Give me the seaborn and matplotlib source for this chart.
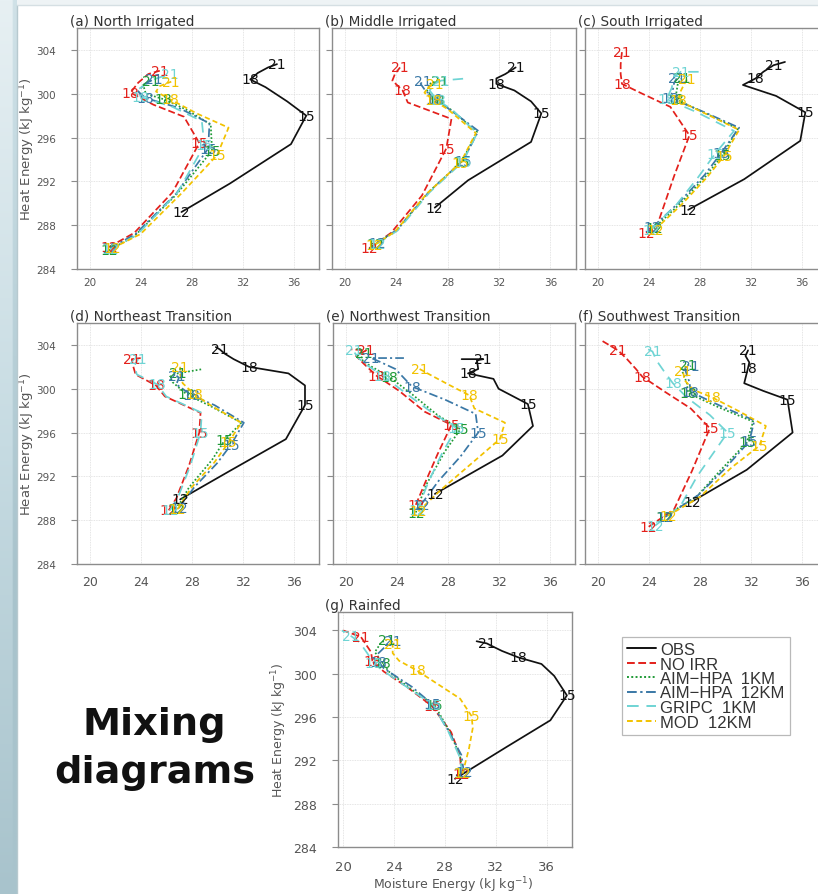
import matplotlib
matplotlib.use("Agg")
import numpy as np
import pandas as pd
import matplotlib.pyplot as plt
import seaborn as sns
from matplotlib.lines import Line2D
from matplotlib.colors import LinearSegmentedColormap

# ---------------------------------------------------------------------------
# Mixing-diagram data: (moisture energy, heat energy) in kJ/kg, hourly 12..21 LST
# (a few tracks carry one extra trailing point past 21 LST)
# ---------------------------------------------------------------------------
SERIES = ["OBS", "NO IRR", "AIM\u2212HPA  1KM", "AIM\u2212HPA  12KM", "GRIPC  1KM", "MOD  12KM"]
HOUR_TAGS = ["12", "15", "18", "21"]
TAG_INDEX = [0, 3, 6, 9]

TITLES = ["(a) North Irrigated", "(b) Middle Irrigated", "(c) South Irrigated",
          "(d) Northeast Transition", "(e) Northwest Transition",
          "(f) Southwest Transition", "(g) Rainfed"]

X_TICKS = [20, 24, 28, 32, 36]
Y_TICKS = [284, 288, 292, 296, 300, 304]

# (a) North Irrigated
a_obs = [(27.2, 289.2), (31.0, 291.8), (35.8, 295.4), (37.0, 298.0), (35.5, 299.3),
         (33.8, 300.6), (32.6, 301.3), (33.2, 301.9), (34.0, 302.4), (34.7, 302.7)]
a_noirr = [(21.5, 286.0), (23.5, 287.3), (26.5, 291.0), (28.6, 295.5), (27.4, 297.9),
           (25.0, 299.0), (23.2, 300.1), (23.8, 301.0), (24.6, 301.8), (25.5, 302.1)]
a_aim1 = [(21.5, 285.7), (23.5, 287.0), (26.8, 290.8), (29.6, 294.8), (29.5, 297.2),
          (27.5, 298.6), (25.8, 299.5), (24.4, 300.0), (24.2, 300.8), (24.8, 301.2)]
a_aim12 = [(21.6, 285.9), (23.6, 287.2), (26.8, 290.9), (29.3, 295.0), (29.4, 297.3),
           (27.0, 298.7), (24.4, 299.6), (23.8, 300.2), (24.3, 300.9), (25.0, 301.3)]
a_gripc = [(21.6, 285.8), (23.7, 287.1), (26.9, 291.0), (29.0, 295.3), (28.8, 297.5),
           (26.5, 298.8), (24.0, 299.7), (23.8, 300.4), (25.0, 301.3), (26.3, 301.8)]
a_mod = [(21.8, 285.9), (24.0, 287.2), (27.2, 290.9), (30.0, 294.4), (30.9, 296.9),
         (28.4, 298.2), (26.3, 299.5), (25.2, 300.2), (25.5, 300.7), (26.4, 301.1)]

# (b) Middle Irrigated
b_obs = [(27.0, 289.6), (29.6, 292.1), (34.5, 295.6), (35.3, 298.2), (34.5, 299.3),
         (33.2, 300.3), (31.8, 300.9), (31.8, 301.4), (32.5, 301.8), (33.3, 302.4)]
b_noirr = [(21.9, 285.9), (23.6, 287.3), (26.0, 290.7), (27.9, 295.0), (28.3, 297.7),
           (24.9, 299.2), (24.5, 300.3), (23.7, 301.2), (23.9, 301.8), (24.3, 302.4)]
b_aim1 = [(22.4, 286.3), (24.0, 287.5), (26.5, 291.0), (29.1, 293.8), (30.3, 296.5),
          (28.2, 298.6), (27.1, 299.4), (26.4, 300.3), (26.7, 301.0), (27.4, 301.2)]
b_aim12 = [(22.5, 286.4), (24.1, 287.6), (26.6, 291.1), (29.2, 293.9), (30.4, 296.6),
           (28.0, 298.7), (27.0, 299.5), (26.2, 300.4), (25.9, 300.9), (26.1, 301.2)]
b_gripc = [(22.5, 286.3), (24.1, 287.5), (26.6, 291.0), (29.2, 293.8), (30.3, 296.4),
           (28.3, 298.6), (27.2, 299.4), (26.6, 300.3), (27.0, 300.9), (27.5, 301.2),
           (29.5, 301.4)]
b_mod = [(22.3, 286.2), (23.9, 287.4), (26.4, 290.9), (29.0, 293.7), (30.2, 296.4),
         (28.0, 298.6), (26.9, 299.4), (26.2, 300.1), (26.5, 300.6), (27.0, 300.9)]

# (c) South Irrigated
c_obs = [(27.1, 289.4), (31.5, 292.2), (35.9, 295.7), (36.3, 298.3), (34.0, 299.8),
         (31.4, 300.8), (32.4, 301.4), (33.0, 302.0), (33.4, 302.3), (33.8, 302.6),
         (34.7, 302.9)]
c_noirr = [(23.8, 287.3), (24.7, 288.1), (26.0, 292.5), (27.2, 296.2), (25.7, 298.8),
           (23.5, 300.0), (21.9, 300.9), (21.8, 301.8), (21.8, 302.7), (21.9, 303.8)]
c_aim1 = [(24.4, 287.7), (26.5, 290.0), (28.5, 292.5), (29.8, 294.4), (31.0, 296.8),
          (28.5, 298.2), (26.1, 299.5), (26.2, 300.3), (26.3, 301.0), (26.6, 301.4)]
c_aim12 = [(24.3, 287.8), (26.4, 290.1), (28.4, 292.6), (29.7, 294.6), (31.1, 296.9),
           (28.2, 298.4), (25.7, 299.6), (25.9, 300.4), (26.0, 301.0), (26.2, 301.4)]
c_gripc = [(24.2, 287.6), (26.2, 289.9), (27.9, 292.4), (29.2, 294.5), (30.7, 296.6),
           (27.8, 298.3), (25.4, 299.5), (25.8, 300.5), (26.0, 301.5), (26.5, 302.0),
           (28.2, 302.0)]
c_mod = [(24.5, 287.6), (26.6, 289.9), (28.6, 292.4), (29.9, 294.3), (31.1, 296.7),
         (28.6, 298.1), (26.3, 299.4), (26.5, 300.2), (26.8, 300.9), (27.0, 301.3)]

# (d) Northeast Transition
d_obs = [(27.1, 289.9), (31.0, 292.5), (35.4, 295.4), (36.9, 298.5), (36.9, 300.3),
         (35.6, 301.4), (32.5, 302.0), (31.3, 302.7), (30.6, 303.2), (30.2, 303.6),
         (29.9, 303.8)]
d_noirr = [(26.2, 288.9), (26.8, 290.0), (27.8, 293.0), (28.6, 296.0), (28.7, 297.8),
           (25.9, 299.3), (25.2, 300.3), (23.6, 301.3), (23.4, 302.1), (23.3, 302.7),
           (24.0, 302.8)]
d_aim1 = [(26.8, 289.0), (27.8, 291.0), (29.6, 293.5), (30.6, 295.3), (31.9, 296.9),
          (29.5, 298.4), (27.6, 299.5), (26.5, 300.6), (26.3, 301.1), (26.9, 301.4),
          (28.9, 301.8)]
d_aim12 = [(27.0, 289.1), (28.2, 291.0), (30.0, 293.2), (31.1, 294.9), (32.1, 296.9),
           (29.8, 298.5), (28.0, 299.4), (26.8, 300.4), (27.0, 301.0), (26.8, 301.2)]
d_gripc = [(26.3, 288.9), (26.9, 290.0), (27.9, 293.0), (28.7, 296.0), (28.8, 297.8),
           (26.0, 299.3), (25.3, 300.4), (23.7, 301.3), (23.5, 302.1), (23.8, 302.7)]
d_mod = [(26.9, 289.0), (28.0, 291.0), (29.8, 293.3), (30.9, 295.1), (31.9, 296.9),
         (29.6, 298.4), (28.2, 299.5), (27.3, 300.5), (27.1, 301.3), (27.1, 302.0)]

# (e) Northwest Transition
e_obs = [(27.0, 290.4), (32.3, 293.9), (34.7, 296.6), (34.3, 298.6), (32.0, 300.0),
         (31.6, 300.9), (29.6, 301.4), (30.4, 301.8), (30.3, 302.6), (30.8, 302.7),
         (29.1, 302.7)]
e_noirr = [(25.5, 289.4), (26.3, 291.6), (27.2, 294.0), (28.3, 296.7), (26.2, 297.9),
           (24.2, 299.8), (22.4, 301.2), (21.4, 302.3), (20.8, 303.0), (21.6, 303.5),
           (20.4, 303.6)]
e_aim1 = [(25.5, 288.7), (26.3, 291.2), (27.8, 294.3), (29.0, 296.3), (27.2, 297.6),
          (25.2, 299.5), (23.4, 301.1), (21.9, 302.1), (21.2, 302.7), (21.4, 303.3)]
e_aim12 = [(25.9, 289.4), (27.3, 291.6), (29.0, 293.8), (30.4, 296.0), (30.2, 297.7),
           (27.8, 299.0), (25.2, 300.2), (23.9, 301.8), (22.6, 302.5), (22.0, 302.8),
           (24.6, 302.8)]
e_gripc = [(25.6, 288.9), (26.5, 291.5), (27.6, 294.2), (28.7, 296.4), (26.8, 297.8),
           (24.7, 299.6), (22.9, 301.2), (21.6, 302.2), (20.9, 302.9), (20.6, 303.5)]
e_mod = [(25.7, 288.8), (27.5, 290.8), (30.0, 293.3), (32.1, 295.4), (32.5, 296.9),
         (30.1, 298.2), (29.7, 299.4), (28.2, 300.3), (26.9, 301.1), (25.8, 301.8)]

# (f) Southwest Transition
f_obs = [(27.4, 289.7), (31.7, 292.6), (35.3, 296.0), (34.9, 299.0), (33.0, 299.8),
         (31.5, 300.5), (31.8, 301.9), (31.9, 302.4), (31.6, 303.0), (31.8, 303.5)]
f_noirr = [(24.0, 287.4), (26.0, 289.0), (27.4, 292.5), (28.8, 296.4), (27.3, 298.2),
           (25.3, 299.7), (23.5, 301.1), (23.0, 301.8), (22.3, 302.7), (21.6, 303.5),
           (20.3, 304.4)]
f_aim1 = [(25.2, 288.3), (27.8, 290.2), (29.6, 292.5), (31.7, 295.1), (32.2, 297.0),
          (29.5, 298.3), (27.1, 299.6), (27.0, 300.5), (26.6, 301.7), (27.1, 302.2)]
f_aim12 = [(25.3, 288.3), (27.9, 290.3), (29.9, 292.6), (31.9, 295.2), (32.3, 297.1),
           (29.7, 298.4), (27.3, 299.7), (27.2, 300.6), (26.9, 301.6), (27.3, 302.1)]
f_gripc = [(24.5, 287.5), (26.5, 289.3), (27.8, 292.0), (30.2, 296.0), (28.8, 297.6),
           (27.0, 299.2), (25.9, 300.5), (25.2, 301.6), (24.6, 302.6), (24.3, 303.4),
           (23.6, 303.8)]
f_mod = [(25.5, 288.4), (28.0, 290.1), (30.5, 292.8), (32.7, 294.8), (33.2, 296.6),
         (31.0, 298.0), (29.0, 299.2), (27.5, 299.9), (26.8, 300.8), (26.7, 301.6)]

# (g) Rainfed
g_obs = [(28.8, 290.3), (32.8, 293.2), (36.3, 295.7), (37.6, 298.0), (36.6, 299.8),
         (35.6, 300.9), (33.8, 301.5), (32.5, 302.1), (31.8, 302.5), (31.3, 302.8),
         (30.5, 303.0)]
g_noirr = [(29.3, 290.7), (29.2, 292.4), (28.5, 294.6), (27.0, 297.0), (25.0, 298.8),
           (23.2, 300.2), (22.3, 301.2), (22.2, 302.0), (21.8, 302.7), (21.4, 303.4),
           (20.0, 304.0)]
g_aim1 = [(29.4, 290.8), (29.2, 292.4), (28.4, 294.6), (27.2, 297.1), (25.2, 298.7),
          (23.6, 300.2), (23.1, 301.0), (22.5, 302.0), (23.0, 302.9), (23.4, 303.1)]
g_aim12 = [(29.5, 290.9), (29.3, 292.5), (28.3, 294.7), (27.0, 297.2), (25.4, 298.8),
           (23.2, 300.5), (22.8, 301.1), (22.7, 301.8), (23.4, 302.6), (23.9, 303.0)]
g_gripc = [(29.4, 290.8), (29.1, 292.5), (28.3, 294.6), (27.1, 297.1), (25.1, 298.7),
           (23.0, 300.4), (22.4, 301.0), (21.9, 301.9), (21.3, 302.9), (20.6, 303.5),
           (19.9, 304.0)]
g_mod = [(29.4, 290.8), (29.9, 293.1), (30.2, 295.0), (30.1, 296.1), (29.2, 297.7),
         (27.5, 299.0), (25.8, 300.3), (24.4, 301.2), (23.9, 301.9), (23.9, 302.7),
         (24.3, 303.2)]

# ---------------------------------------------------------------------------
# Styling
# ---------------------------------------------------------------------------
COLORS = ["#111111", "#e3201b", "#1f9a36", "#3a78a6", "#6fd4d4", "#f2c200"]
DASHES = ["", (4, 1.8), (1, 1.2), (5, 1.8, 1.2, 1.8), (6, 4), (3, 1.8)]
PALETTE = dict(zip(SERIES, COLORS))
DASH_MAP = dict(zip(SERIES, DASHES))

sns.set_theme(style="white")
plt.rcParams["font.family"] = ["DejaVu Sans"]
plt.rcParams["mathtext.fontset"] = "dejavusans"

FIG_W, FIG_H = 818, 895
fig = plt.figure(figsize=(FIG_W / 100, FIG_H / 100), dpi=100)
fig.patch.set_facecolor("white")


def px_axes(left, top, right, bottom):
    return fig.add_axes([left / FIG_W, 1 - bottom / FIG_H,
                         (right - left) / FIG_W, (bottom - top) / FIG_H])


# slide backdrop: bluish strip on the left and a pale band on top
strip = fig.add_axes([0, 0, 17 / FIG_W, 1], zorder=-5)
grad = np.linspace(0, 1, 256)[:, None] * np.ones((1, 8))
grad[:, -2:] += 0.35
cm_strip = LinearSegmentedColormap.from_list("strip", ["#e7f0f3", "#c6dbe2", "#a8c3cc"])
strip.imshow(np.clip(grad, 0, 1), aspect="auto", cmap=cm_strip, origin="upper")
strip.set_axis_off()
topband = fig.add_axes([17 / FIG_W, 1 - 6 / FIG_H, 1 - 17 / FIG_W, 6 / FIG_H], zorder=-5)
topband.set_facecolor("#eef3f5")
topband.set_xticks([]); topband.set_yticks([])
for s in topband.spines.values():
    s.set_visible(False)
fig.add_artist(Line2D([17 / FIG_W, 17 / FIG_W], [0, 1 - 6 / FIG_H],
                      color="#b7c9cf", lw=1.0, transform=fig.transFigure))
fig.add_artist(Line2D([17 / FIG_W, 1], [1 - 6 / FIG_H, 1 - 6 / FIG_H],
                      color="#d5dfe3", lw=1.0, transform=fig.transFigure))

# panel frames in pixel coordinates (left, top, right, bottom)
LAYOUT = [
    (77, 29, 319, 270), (332, 29, 576, 270), (585, 29, 827, 270),
    (77, 324, 319, 565), (333, 324, 575, 565), (585, 324, 827, 565),
    (338, 613, 572, 848),
]
PANEL_SERIES = [
    [a_obs, a_noirr, a_aim1, a_aim12, a_gripc, a_mod],
    [b_obs, b_noirr, b_aim1, b_aim12, b_gripc, b_mod],
    [c_obs, c_noirr, c_aim1, c_aim12, c_gripc, c_mod],
    [d_obs, d_noirr, d_aim1, d_aim12, d_gripc, d_mod],
    [e_obs, e_noirr, e_aim1, e_aim12, e_gripc, e_mod],
    [f_obs, f_noirr, f_aim1, f_aim12, f_gripc, f_mod],
    [g_obs, g_noirr, g_aim1, g_aim12, g_gripc, g_mod],
]
XLIMS = [(19, 38)] * 6 + [(19.6, 38)]
YLIMS = [(284, 306)] * 6 + [(284, 305.7)]
TICK_GREY = "#555555"
FRAME_GREY = "#8c8c8c"

for k, (box, tracks) in enumerate(zip(LAYOUT, PANEL_SERIES)):
    ax = px_axes(*box)
    rows = []
    for name, pts in zip(SERIES, tracks):
        for i, (me, he) in enumerate(pts):
            rows.append({"series": name, "step": i, "moisture": me, "heat": he})
    df = pd.DataFrame(rows)
    sns.lineplot(data=df, x="moisture", y="heat", hue="series", style="series",
                 hue_order=SERIES, style_order=SERIES, palette=PALETTE,
                 dashes=DASH_MAP, sort=False, estimator=None, legend=False,
                 linewidth=1.25, ax=ax)
    # hour labels along each track
    for name, pts in zip(SERIES, tracks):
        for tag, idx in zip(HOUR_TAGS, TAG_INDEX):
            me, he = pts[idx]
            ax.text(me, he, tag, color=PALETTE[name], ha="center", va="center",
                    fontsize=10, zorder=4)

    ax.set_xlim(*XLIMS[k])
    ax.set_ylim(*YLIMS[k])
    ax.set_xticks(X_TICKS)
    ax.set_yticks(Y_TICKS)
    ax.grid(True, color="#dcdcdc", lw=0.6, linestyle=(0, (1, 1)))
    ax.set_axisbelow(True)
    for s in ax.spines.values():
        s.set_color(FRAME_GREY)
        s.set_linewidth(1.0)
    ax.set_xlabel("")
    ax.set_ylabel("")

    is_left = k in (0, 3)
    if k < 3:
        xsize, xpad, ysize = 7.5, 5.5, 7.5
    elif k < 6:
        xsize, xpad, ysize = 9, 8, 7.5
    else:
        xsize, xpad, ysize = 9.5, 9.5, 9
    ax.tick_params(axis="x", length=0, pad=xpad, labelsize=xsize, labelcolor=TICK_GREY)
    ax.tick_params(axis="y", which="both", left=True, direction="out", length=4.3,
                   width=0.8, color=FRAME_GREY, pad=11, labelsize=ysize,
                   labelcolor=TICK_GREY)
    if not (is_left or k == 6):
        ax.tick_params(axis="y", labelleft=False)

    if is_left:
        ax.set_ylabel(r"Heat Energy (kJ kg$^{-1}$)", fontsize=9.5, color=TICK_GREY)
        ax.yaxis.set_label_coords(-0.165, 0.5)
    if k == 6:
        ax.set_ylabel(r"Heat Energy (kJ kg$^{-1}$)", fontsize=9, color=TICK_GREY)
        ax.yaxis.set_label_coords(-0.209, 0.5)
        ax.set_xlabel(r"Moisture Energy (kJ kg$^{-1}$)", fontsize=9, color=TICK_GREY)
        ax.xaxis.set_label_coords(0.49, -0.115)

    title_x = -0.055 if k == 6 else -0.03
    ax.text(title_x, 1.014, TITLES[k], transform=ax.transAxes, ha="left",
            va="baseline", fontsize=9.8, color="#333333")

# legend
handles = [Line2D([], [], color=c, lw=1.4,
                  linestyle="-" if d == "" else (0, d))
           for c, d in zip(COLORS, DASHES)]
leg = fig.legend(handles, SERIES, loc="upper left",
                 bbox_to_anchor=(622 / FIG_W, 1 - 638 / FIG_H),
                 bbox_transform=fig.transFigure, frameon=True, fancybox=False,
                 edgecolor="#a8a8a8", prop={"family": "Liberation Sans", "size": 12},
                 handlelength=1.75, handletextpad=0.25, labelspacing=-0.03,
                 borderpad=0.3, borderaxespad=0)
leg.get_frame().set_linewidth(0.9)
for t in leg.get_texts():
    t.set_color("#333333")

# slide caption
fig.text(154 / FIG_W, 1 - 735 / FIG_H, "Mixing", ha="center", va="baseline",
         fontsize=27.5, fontweight="bold", color="#111111")
fig.text(155 / FIG_W, 1 - 783 / FIG_H, "diagrams", ha="center", va="baseline",
         fontsize=27.5, fontweight="bold", color="#111111")

fig.savefig("out.png", dpi=100)
